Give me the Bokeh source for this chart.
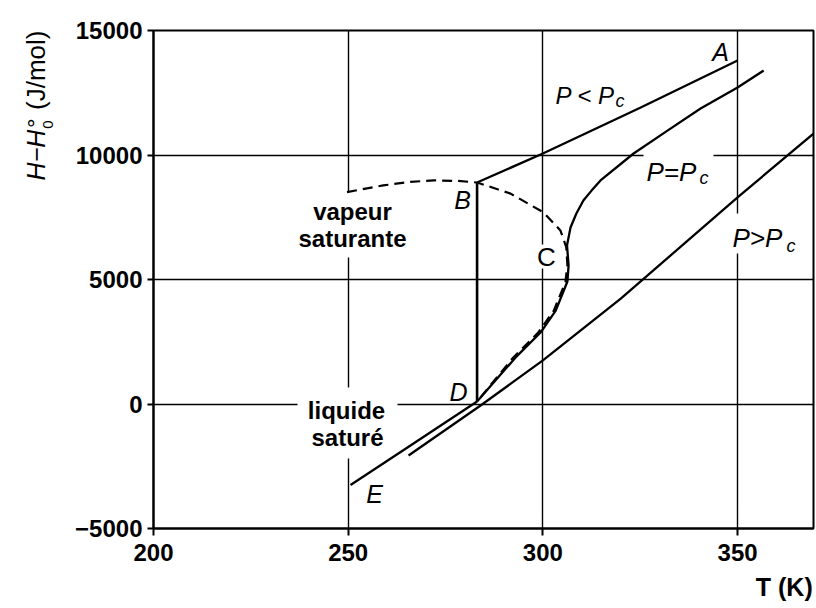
import math
from bokeh.plotting import figure
from bokeh.layouts import row
from bokeh.models import Label, FixedTicker, Range1d, BoxAnnotation, LinearAxis
from bokeh.core.properties import value
from bokeh.embed import file_html
from bokeh.resources import INLINE

# ---------------- data ----------------
x_ticks = [200, 250, 300, 350]
y_ticks = [-5000, 0, 5000, 10000, 15000]

# P < Pc : compressed liquid E -> D
liq_T = [250.6, 266.0, 283.1]
liq_H = [-3250, -1670, 100]
# P < Pc : vaporisation D -> B
vap_step_T = [283.1, 283.1]
vap_step_H = [100, 8896]
# P < Pc : vapour B -> A
vap_T = [283.1, 300.0, 325.0, 350.0]
vap_H = [8896, 10060, 11900, 13795]

# P = Pc (critical isobar, through C)
crit_T = [283.1, 293.0, 299.4, 303.3, 306.3, 306.6, 306.2, 307.1, 308.6, 310.4,
          312.5, 314.8, 323.3, 332.0, 340.5, 350.0, 356.7]
crit_H = [100, 1870, 2870, 3750, 4920, 5560, 6370, 7090, 7650, 8170,
          8570, 8980, 10060, 10980, 11870, 12710, 13390]

# P > Pc
super_T = [265.5, 284.0, 300.0, 320.0, 350.0, 369.5]
super_H = [-2070, -60, 1750, 4230, 8300, 10860]

# saturation dome (dashed): vapeur saturante -> C -> liquide saturé
sat_T = [249.7, 259.0, 266.0, 272.0, 278.0, 283.1, 291.7, 300.2, 304.5,
         306.0, 306.3, 305.8, 302.8, 298.8, 292.4, 283.1]
sat_H = [8510, 8780, 8920, 8980, 8960, 8896, 8450, 7690, 6970,
         6300, 5600, 4900, 3750, 2870, 1870, 100]

# x title, written as the label of a second (bare) bottom axis
x_title_at = [362.0]
x_title = "T (K)"

# ---------------- layout ----------------
X0, X1 = 200, 369.5
Y0, Y1 = -5000, 15000
FL, FT, FW, FH = 153, 30, 660, 498   # frame position on the page (px)
W_SIDE = 60                          # strip holding the y title
W, H = 816, 608


def px2x(px):
    return X0 + (px - FL) * (X1 - X0) / FW


def py2y(py):
    return Y1 - (py - FT) * (Y1 - Y0) / FH


p = figure(width=W - W_SIDE, height=H, x_range=Range1d(X0, X1), y_range=Range1d(Y0, Y1),
           output_backend="svg", toolbar_location=None,
           min_border_left=FL - W_SIDE, min_border_right=W - FL - FW,
           min_border_top=FT, min_border_bottom=H - FT - FH)
p.background_fill_color = "white"
p.border_fill_color = "white"
p.outline_line_color = "black"
p.outline_line_width = 2

for ax, tks, tout, stand in ((p.xaxis, x_ticks, 7, 8), (p.yaxis, y_ticks, 6, 5)):
    ax.ticker = FixedTicker(ticks=tks)
    ax.axis_line_width = 2
    ax.axis_line_color = "black"
    ax.major_tick_line_width = 2
    ax.major_tick_line_color = "black"
    ax.major_tick_out = tout
    ax.major_tick_in = 0
    ax.minor_tick_out = 0
    ax.minor_tick_in = 0
    ax.major_label_standoff = stand
    ax.major_label_text_font = "Liberation Sans"
    ax.major_label_text_font_style = "bold"
    ax.major_label_text_font_size = "24px"
    ax.major_label_text_color = "black"
p.yaxis.major_label_overrides = {-5000: "\u22125000"}

t_axis = LinearAxis(ticker=FixedTicker(ticks=x_title_at),
                    major_label_overrides={x_title_at[0]: x_title},
                    axis_line_color=None, major_tick_line_color=None,
                    minor_tick_line_color=None, major_tick_out=0, major_tick_in=0,
                    minor_tick_out=0, minor_tick_in=0, major_label_standoff=9,
                    major_label_text_font="Liberation Sans",
                    major_label_text_font_style="bold",
                    major_label_text_font_size="25px", major_label_text_color="black")
p.add_layout(t_axis, "below")

p.xgrid.ticker = FixedTicker(ticks=[250, 300, 350])
p.ygrid.ticker = FixedTicker(ticks=[0, 5000, 10000])
for g in (p.xgrid, p.ygrid):
    g.grid_line_color = "black"
    g.grid_line_width = 1.4
    g.grid_line_alpha = 1.0


# white gaps in the grid behind the texts
def gap(l, r, t, b):
    p.add_layout(BoxAnnotation(left=px2x(l), right=px2x(r), top=py2y(t), bottom=py2y(b),
                               fill_color="white", fill_alpha=1.0, line_color=None,
                               level="underlay"))


gap(344, 354, 192, 257)     # vapeur saturante on T = 250
gap(297, 397, 399, 408)     # liquide on H = 0
gap(344, 354, 387, 458)     # liquide saturé on T = 250
gap(537, 547, 244, 268)     # C on T = 300
gap(643, 713, 150, 158)     # P=Pc on H = 10000
gap(732, 742, 213, 253)     # P>Pc on T = 350

LW = 2.3
p.line(sat_T, sat_H, line_color="black", line_width=2.2, line_dash="10 6")
p.line(liq_T, liq_H, line_color="black", line_width=LW)
p.line(vap_step_T, vap_step_H, line_color="black", line_width=2.6)
p.line(vap_T, vap_H, line_color="black", line_width=LW)
p.line(crit_T, crit_H, line_color="black", line_width=LW)
p.line(super_T, super_H, line_color="black", line_width=LW)


def lab(text, px, py, size=25, style="normal", align="center", baseline="middle"):
    p.add_layout(Label(x=px2x(px), y=py2y(py), text=text,
                       text_font="Liberation Sans", text_font_size=f"{size}px",
                       text_font_style=style, text_color="black",
                       text_align=align, text_baseline=baseline))


# point letters
lab("A", 720, 51, 25, "italic")
lab("B", 462, 199, 25, "italic")
lab("C", 546, 256, 26, "normal")
lab("D", 458, 391, 25, "italic")
lab("E", 374, 493, 25, "italic")

# isobar names
lab("P < P", 555, 95, 24, "italic", align="left", baseline="alphabetic")
lab("c", 615, 100, 18, "italic", align="left", baseline="alphabetic")
lab("P=P", 646, 171, 26, "italic", align="left", baseline="alphabetic")
lab("c", 699, 177, 18, "italic", align="left", baseline="alphabetic")
lab("P>P", 732, 237, 26, "italic", align="left", baseline="alphabetic")
lab("c", 786, 245, 18, "italic", align="left", baseline="alphabetic")

# saturation labels
lab("vapeur", 352, 211, 24, "bold")
lab("saturante", 352, 238, 24, "bold")
lab("liquide", 346, 410, 24, "bold")
lab("saturé", 347, 437, 24, "bold")

# ---------------- y title strip (left) ----------------
s = figure(width=W_SIDE, height=H, x_range=Range1d(0, W_SIDE), y_range=Range1d(0, H),
           output_backend="svg", toolbar_location=None, x_axis_type=None,
           y_axis_type=None, min_border=0)
s.outline_line_color = None
s.grid.visible = False
s.background_fill_color = "white"
s.border_fill_color = "white"
A90 = math.pi / 2


def vtxt(text, px, py, size, style):
    s.text(x=[px], y=[H - py], text=[text], angle=A90, text_align="left",
           text_baseline="alphabetic", text_font=value("Liberation Sans"),
           text_font_size=f"{size}px", text_font_style=style, text_color="black")


vtxt("H\u2212H", 35, 183, 25, "italic")
vtxt("\u00b0", 35, 119, 24, "normal")
vtxt("0", 47, 120, 15, "normal")
vtxt("(J/mol)", 35, 97, 26, "normal")

open("out.html", "w").write(file_html(row(s, p), INLINE))
